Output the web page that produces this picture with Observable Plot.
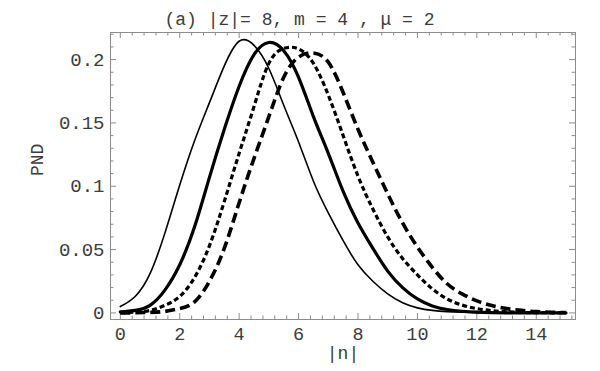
<!DOCTYPE html>
<html><head><meta charset="utf-8">
<script src="https://cdn.jsdelivr.net/npm/d3@7"></script>
<script src="https://cdn.jsdelivr.net/npm/@observablehq/plot@0.6"></script>
<style>html,body{margin:0;padding:0;background:#fff}</style>
</head><body><div id="chart"></div>
<script>
const title = "(a) |z|= 8, m = 4 , \u03bc = 2";
const xLabel = "|n|";
const yLabel = "PND";

const n = [0,0.5,1,1.5,2,2.5,3,3.5,4,4.5,5,5.5,6,6.5,7,7.5,8,8.5,9,9.5,10,10.5,11,11.5,12,12.5,13,13.5,14,14.5,15];
const thinSolid  = [0.005,0.013,0.031,0.063,0.101,0.136,0.166,0.195,0.2145,0.2112,0.193,0.164,0.135,0.104,0.079,0.057,0.038,0.025,0.015,0.008,0.004,0.002,0.001,0.0005,0.0002,0.0001,0,0,0,0,0];
const thickSolid = [0.0008,0.002,0.006,0.018,0.038,0.068,0.107,0.145,0.179,0.204,0.2135,0.207,0.186,0.155,0.126,0.096,0.071,0.051,0.033,0.020,0.011,0.0055,0.0027,0.0013,0.0006,0.0003,0.0001,0,0,0,0];
const dotted     = [0.0002,0.0006,0.002,0.006,0.013,0.028,0.053,0.088,0.126,0.163,0.197,0.2088,0.2085,0.197,0.172,0.140,0.108,0.082,0.060,0.043,0.030,0.019,0.011,0.0062,0.0034,0.0018,0.0009,0.0004,0.0002,0.0001,0];
const dashed     = [0,0.0001,0.0004,0.0012,0.0035,0.0087,0.025,0.051,0.087,0.122,0.155,0.186,0.202,0.2052,0.198,0.174,0.145,0.119,0.094,0.071,0.052,0.036,0.023,0.015,0.0095,0.0058,0.0034,0.002,0.001,0.0005,0.0002];

const xTicks = [0,2,4,6,8,10,12,14];
const xTickLabels = ["0","2","4","6","8","10","12","14"];
const yTicks = [0,0.05,0.1,0.15,0.2];
const yTickLabels = ["0","0.05","0.1","0.15","0.2"];

const xDomain = [-0.33, 15.32];
const yDomain = [-0.0052, 0.2214];
const W = 600, H = 371, mL = 110, mR = 25, mT = 32, mB = 52;
const kx = (W - mL - mR) / (xDomain[1] - xDomain[0]);
const ky = (H - mT - mB) / (yDomain[1] - yDomain[0]);

const xMinor = d3.range(0, 15.3, 0.4).map(d => +d.toFixed(2)).filter(d => Math.abs(d/2 - Math.round(d/2)) > 1e-6);
const yMinor = d3.range(0, 0.2205, 0.01).map(d => +d.toFixed(3)).filter(d => Math.abs(d/0.05 - Math.round(d/0.05)) > 1e-6);

const tickColor = "#8c8c8c";
const textColor = "#3c3c3c";
const major = 6, minor = 3.5;

const chart = Plot.plot({
  width: W, height: H,
  marginLeft: mL, marginRight: mR, marginTop: mT, marginBottom: mB,
  x: {domain: xDomain, axis: null},
  y: {domain: yDomain, axis: null},
  style: {fontFamily: "'Liberation Mono', 'DejaVu Sans Mono', monospace", fontSize: "18px", color: textColor, background: "#fff"},
  marks: [
    Plot.frame({stroke: tickColor, strokeWidth: 1}),
    Plot.ruleX(xTicks, {x: d => d, y1: yDomain[0], y2: yDomain[0] + major/ky, stroke: tickColor}),
    Plot.ruleX(xTicks, {x: d => d, y1: yDomain[1] - major/ky, y2: yDomain[1], stroke: tickColor}),
    Plot.ruleX(xMinor, {x: d => d, y1: yDomain[0], y2: yDomain[0] + minor/ky, stroke: tickColor}),
    Plot.ruleX(xMinor, {x: d => d, y1: yDomain[1] - minor/ky, y2: yDomain[1], stroke: tickColor}),
    Plot.ruleY(yTicks, {y: d => d, x1: xDomain[0], x2: xDomain[0] + major/kx, stroke: tickColor}),
    Plot.ruleY(yTicks, {y: d => d, x1: xDomain[1] - major/kx, x2: xDomain[1], stroke: tickColor}),
    Plot.ruleY(yMinor, {y: d => d, x1: xDomain[0], x2: xDomain[0] + minor/kx, stroke: tickColor}),
    Plot.ruleY(yMinor, {y: d => d, x1: xDomain[1] - minor/kx, x2: xDomain[1], stroke: tickColor}),
    Plot.axisX({ticks: xTicks, tickSize: 0, tickPadding: 7, tickFormat: d => xTickLabels[xTicks.indexOf(d)], label: null, fontSize: 18.5, fill: textColor}),
    Plot.axisY({ticks: yTicks, tickSize: 0, tickPadding: 6, tickFormat: d => yTickLabels[yTicks.indexOf(d)], label: null, fontSize: 19, fill: textColor}),
    Plot.line(n, {x: n, y: thinSolid, stroke: "#000", strokeWidth: 1.6, curve: "natural"}),
    Plot.line(n, {x: n, y: thickSolid, stroke: "#000", strokeWidth: 3.2, curve: "natural"}),
    Plot.line(n, {x: n, y: dotted, stroke: "#000", strokeWidth: 3.2, strokeDasharray: "5,3", strokeLinecap: "butt", curve: "natural"}),
    Plot.line(n, {x: n, y: dashed, stroke: "#000", strokeWidth: 3.6, strokeDasharray: "10,5", strokeLinecap: "butt", curve: "natural"}),
    Plot.text([title], {frameAnchor: "top", dx: -43.5, dy: -20.3, fontSize: 18, fill: textColor, text: d => d}),
    Plot.text([xLabel], {frameAnchor: "bottom", dy: 39.5, fontSize: 18, fill: textColor, text: d => d}),
    Plot.text([yLabel], {frameAnchor: "left", dx: -72.8, rotate: -90, fontSize: 18, fill: textColor, text: d => d})
  ]
});
document.getElementById("chart").appendChild(chart);
</script>
</body></html>
